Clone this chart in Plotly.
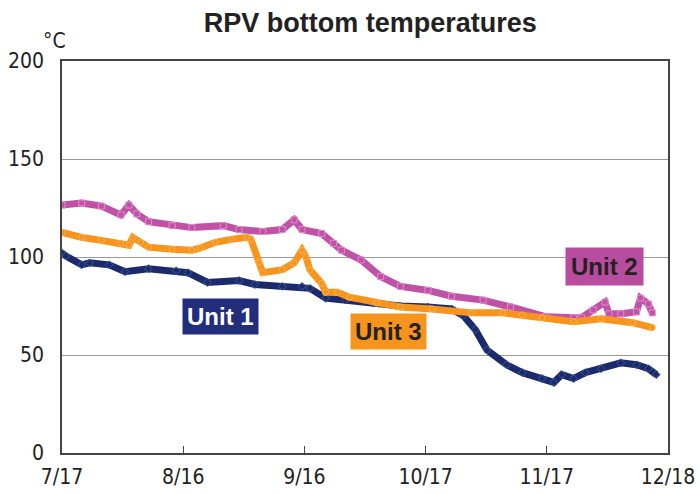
import datetime as dt
import plotly.graph_objects as go

# Reactor pressure vessel bottom temperatures (deg C), readings per date
unit1_dates = ["2011-07-17", "2011-07-18", "2011-07-22", "2011-07-24", "2011-07-29", "2011-08-02",
               "2011-08-08", "2011-08-15", "2011-08-18", "2011-08-23", "2011-08-31", "2011-09-04",
               "2011-09-11", "2011-09-16", "2011-09-18", "2011-09-22", "2011-09-27", "2011-10-04",
               "2011-10-11", "2011-10-18", "2011-10-24", "2011-10-27", "2011-10-30", "2011-11-02",
               "2011-11-07", "2011-11-11", "2011-11-16", "2011-11-19", "2011-11-21", "2011-11-24",
               "2011-11-27", "2011-12-01", "2011-12-06", "2011-12-10", "2011-12-13", "2011-12-15"]
unit1_temps = [102, 100.5, 96, 97, 96, 92.5,
               94, 93, 92, 87, 88, 86,
               85, 85, 84, 79, 78, 76.5,
               75, 74.5, 73.5, 70, 63, 52.5,
               45, 41, 38, 36, 40, 38,
               41, 43, 46, 45, 43, 40]

unit2_dates = ["2011-07-17", "2011-07-22", "2011-07-27", "2011-08-01", "2011-08-03", "2011-08-05",
               "2011-08-08", "2011-08-14", "2011-08-19", "2011-08-27", "2011-08-31", "2011-09-06",
               "2011-09-11", "2011-09-14", "2011-09-16", "2011-09-21", "2011-09-24", "2011-09-26",
               "2011-10-01", "2011-10-06", "2011-10-11", "2011-10-18", "2011-10-24", "2011-11-01",
               "2011-11-08", "2011-11-17", "2011-11-24", "2011-11-26", "2011-11-29", "2011-12-02",
               "2011-12-03", "2011-12-06", "2011-12-10", "2011-12-11", "2011-12-13", "2011-12-14"]
unit2_temps = [126.5, 127.5, 126, 121.5, 126.5, 122,
               118, 116, 115, 116, 114, 113,
               114, 119, 114, 112, 107, 103.5,
               98.5, 90, 85, 83, 80, 78,
               74.5, 69.5, 69, 69, 73, 77,
               71, 71, 72, 79, 76, 71.5]

unit3_dates = ["2011-07-17", "2011-07-22", "2011-07-27", "2011-08-01", "2011-08-03", "2011-08-04",
               "2011-08-06", "2011-08-08", "2011-08-14", "2011-08-19", "2011-08-21", "2011-08-25",
               "2011-08-29", "2011-09-02", "2011-09-03", "2011-09-05", "2011-09-06", "2011-09-11",
               "2011-09-14", "2011-09-16", "2011-09-17", "2011-09-18", "2011-09-21", "2011-09-22",
               "2011-09-25", "2011-09-28", "2011-10-05", "2011-10-11", "2011-10-19", "2011-10-29",
               "2011-11-06", "2011-11-11", "2011-11-16", "2011-11-24", "2011-12-01", "2011-12-09",
               "2011-12-14"]
unit3_temps = [112.5, 110, 108.5, 107, 106, 110,
               107.5, 105, 104, 103.5, 104.5, 107.5,
               109, 110, 109, 97.5, 92, 93.5,
               97, 103.5, 100, 93.5, 86.5, 82,
               82, 79.5, 76.5, 74.5, 73.5, 71.5,
               71.5, 70.5, 69, 67, 68.5, 66.5,
               64]

x_tick_labels = ["7/17", "8/16", "9/16", "10/17", "11/17", "12/18"]
y_tick_values = [0, 50, 100, 150, 200]

start = dt.datetime(2011, 7, 17)
end = dt.datetime(2011, 12, 18)
step = (end - start) / (len(x_tick_labels) - 1)
x_tick_positions = [start + i * step for i in range(len(x_tick_labels))]

series = [
    ("Unit 1", unit1_dates, unit1_temps, "#1c2a6c", "#3a5a9a", "diamond"),
    ("Unit 2", unit2_dates, unit2_temps, "#bf52a6", "#e48ccb", "square"),
    ("Unit 3", unit3_dates, unit3_temps, "#f7941d", "#fbb24a", "circle"),
]

fig = go.Figure()
for name, xs, ys, color, edge, symbol in series:
    fig.add_trace(go.Scatter(
        x=xs, y=ys, name=name, mode="lines+markers",
        line=dict(color=color, width=7),
        marker=dict(symbol=symbol, size=6, color=color, line=dict(color=edge, width=1)),
        showlegend=False,
    ))

tick_font = dict(family="DejaVu Sans Condensed, Liberation Sans, sans-serif", size=21, color="#222222")

fig.update_layout(
    width=700, height=494,
    margin=dict(l=62, r=32, t=61, b=41),
    plot_bgcolor="white", paper_bgcolor="white",
    title=dict(text="<b>RPV bottom temperatures</b>", x=0.529, xanchor="center",
               y=0.955, yanchor="middle",
               font=dict(family="Liberation Sans, Arial, sans-serif", size=27, color="#222222")),
    xaxis=dict(type="date", range=[start, end], tickvals=x_tick_positions, ticktext=x_tick_labels,
               ticks="inside", ticklen=7, tickcolor="#444444", tickwidth=1,
               showline=True, linecolor="#444444", linewidth=1.5, mirror=True,
               showgrid=False, zeroline=False, tickfont=tick_font, ticklabelstandoff=4,
               automargin=False),
    yaxis=dict(range=[0, 200], tickvals=y_tick_values, ticks="", showline=True,
               linecolor="#444444", linewidth=1.5, mirror=True,
               showgrid=True, gridcolor="#999999", gridwidth=1, zeroline=False,
               tickfont=tick_font, ticklabelstandoff=12, automargin=False),
)

label_font = dict(family="Liberation Sans, Arial, sans-serif", size=24)
fig.add_annotation(text="<b>Unit 1</b>", xref="paper", yref="paper", x=0.262, y=0.347,
                   xanchor="center", yanchor="middle",
                   showarrow=False, bgcolor="#222d7c", borderpad=4,
                   font=dict(color="white", **label_font))
fig.add_annotation(text="<b>Unit 3</b>", xref="paper", yref="paper", x=0.538, y=0.309,
                   xanchor="center", yanchor="middle",
                   showarrow=False, bgcolor="#f7941d", borderpad=4,
                   font=dict(color="#222222", **label_font))
fig.add_annotation(text="<b>Unit 2</b>", xref="paper", yref="paper", x=0.896, y=0.477,
                   xanchor="center", yanchor="middle",
                   showarrow=False, bgcolor="#b84da0", borderpad=5,
                   font=dict(color="#222222", **label_font))
fig.add_annotation(text="°C", xref="paper", yref="paper", x=-0.012, y=1.05,
                   xanchor="center", yanchor="middle", showarrow=False,
                   font=dict(family="DejaVu Sans Condensed, Liberation Sans, sans-serif",
                             size=21, color="#222222"))

fig.write_html("out.html")
